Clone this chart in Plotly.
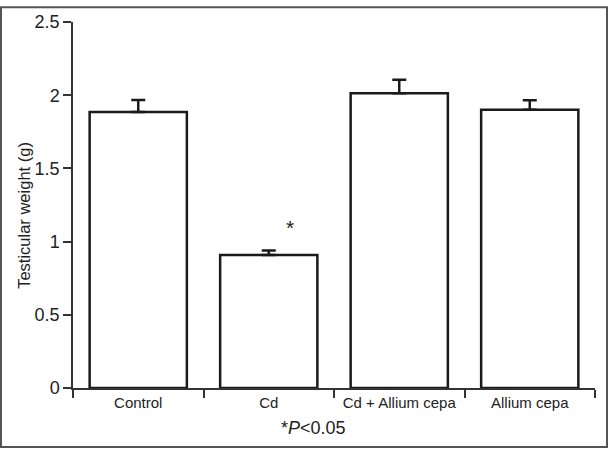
import plotly.graph_objects as go

categories = ["Control", "Cd", "Cd + Allium cepa", "Allium cepa"]
weights = [1.886, 0.909, 2.014, 1.900]
sem = [0.081, 0.030, 0.092, 0.065]
y_ticks = [0, 0.5, 1, 1.5, 2, 2.5]
y_tick_labels = ["0", "0.5", "1", "1.5", "2", "2.5"]
star_value = 1.095

W, H = 608, 449
ML, MR, MT, MB = 73, 13, 16, 61
PW, PH = W - ML - MR, H - MT - MB

def px_x(px):
    return (px - ML) / PW

def px_y(py):
    return (H - MB - py) / PH

FONT = "Liberation Sans, Arial, sans-serif"

fig = go.Figure()
fig.add_trace(go.Bar(
    x=categories, y=weights,
    marker=dict(color="white", line=dict(color="#1a1a1a", width=2.5)),
    error_y=dict(type="data", array=sem, arrayminus=[0] * len(sem), symmetric=False,
                 color="#1a1a1a", thickness=2.5, width=7),
    showlegend=False,
))

fig.add_annotation(x="Cd", y=star_value, xref="x", yref="y", xshift=21,
                   xanchor="center", yanchor="middle",
                   text="*", showarrow=False,
                   font=dict(family=FONT, size=21, color="#222"))
fig.add_annotation(x=px_x(313), y=px_y(429), xref="paper", yref="paper",
                   xanchor="center", yanchor="middle",
                   text="*<i>P</i>&lt;0.05", showarrow=False,
                   font=dict(family=FONT, size=18, color="#222"))
fig.add_annotation(x=px_x(24), y=px_y(213), xref="paper", yref="paper",
                   xanchor="center", yanchor="middle",
                   text="Testicular weight (g)", textangle=-90, showarrow=False,
                   font=dict(family=FONT, size=16.5, color="#222"))

fig.add_shape(type="rect", xref="paper", yref="paper",
              x0=px_x(1), x1=px_x(607), y0=px_y(448), y1=px_y(1),
              line=dict(color="#555", width=2), fillcolor="rgba(0,0,0,0)", layer="above")

fig.update_layout(
    width=W, height=H,
    margin=dict(l=ML, r=MR, t=MT, b=MB, pad=0),
    paper_bgcolor="white", plot_bgcolor="white",
    bargap=0.255,
    font=dict(family=FONT, color="#222"),
    xaxis=dict(type="category", showline=True, linecolor="#333", linewidth=1.5,
               ticks="outside", tickson="boundaries", ticklen=8, tickwidth=1.5,
               tickcolor="#333", showgrid=False, zeroline=False,
               tickfont=dict(size=15, color="#222"), fixedrange=True),
    yaxis=dict(range=[0, 2.5], tickvals=y_ticks, ticktext=y_tick_labels,
               showline=True, linecolor="#333", linewidth=1.5,
               ticks="outside", ticklen=8, tickwidth=1.5, tickcolor="#333",
               showgrid=False, zeroline=False,
               tickfont=dict(size=18, color="#222"), fixedrange=True),
)

fig.write_html("out.html", config={"displayModeBar": False},
               post_script="document.body.style.margin='0';")
